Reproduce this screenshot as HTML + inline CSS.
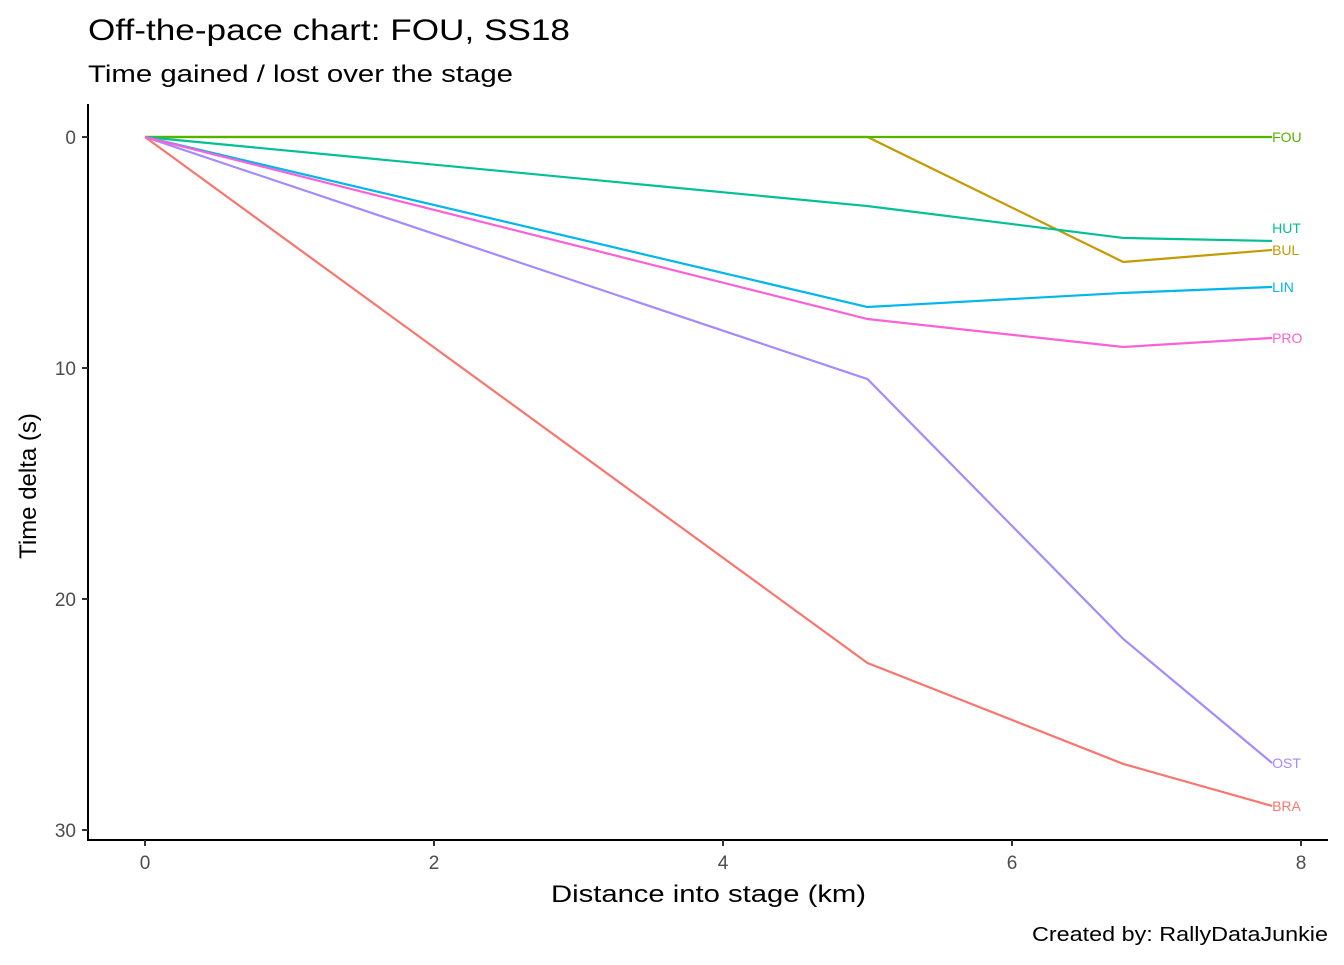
<!DOCTYPE html>
<html><head><meta charset="utf-8"><style>
body{margin:0;background:#fff;font-family:"Liberation Sans",Arial,sans-serif}
</style></head><body>
<svg id="chart" width="1344" height="960" xmlns="http://www.w3.org/2000/svg">
<text x="88" y="40" font-size="30" textLength="482" lengthAdjust="spacingAndGlyphs" fill="#000">Off-the-pace chart: FOU, SS18</text>
<text x="88" y="82" font-size="24" textLength="425" lengthAdjust="spacingAndGlyphs" fill="#000">Time gained / lost over the stage</text>
<text x="1032" y="941" font-size="20" textLength="296" lengthAdjust="spacingAndGlyphs" fill="#000">Created by: RallyDataJunkie</text>
<text x="551" y="902" font-size="24" textLength="315" lengthAdjust="spacingAndGlyphs" fill="#000">Distance into stage (km)</text>
<text transform="translate(36,486) rotate(-90)" font-size="24" text-anchor="middle" fill="#000">Time delta (s)</text>
<line x1="88" y1="104" x2="88" y2="841" stroke="#000" stroke-width="2"/>
<line x1="87" y1="840" x2="1328" y2="840" stroke="#000" stroke-width="2"/>
<g id="ticks"></g><g id="lines"></g>
</svg>
<script>
const distances=[0,5,6.77,7.8];
const series=["BRA","BUL","FOU","HUT","LIN","OST","PRO"];
const colors=["#F8766D","#C49A00","#53B400","#00C094","#00B6EB","#A58AFF","#FB61D7"];
const BRA=[0,22.77,27.14,28.96];
const BUL=[0,0,5.41,4.89];
const FOU=[0,0,0,0];
const HUT=[0,2.99,4.37,4.5];
const LIN=[0,7.36,6.75,6.49];
const OST=[0,10.48,21.73,27.1];
const PRO=[0,7.88,9.09,8.7];
const values=[BRA,BUL,FOU,HUT,LIN,OST,PRO];
const xTicks=[0,2,4,6,8];
const yTicks=[0,10,20,30];
const ns="http://www.w3.org/2000/svg";
const X=v=>145+v*144.5, Y=v=>137+v*23.1;
const tg=document.getElementById('ticks'), lg=document.getElementById('lines');
function mk(t,a,p){const e=document.createElementNS(ns,t);for(const k in a)e.setAttribute(k,a[k]);p.appendChild(e);return e;}
xTicks.forEach(v=>{
 const l=mk('line',{x1:X(v),x2:X(v),y1:840,y2:846,stroke:'#333','stroke-width':2},tg);
 
 
 const t=mk('text',{x:X(v),y:869,'font-size':19,'text-anchor':'middle',fill:'#4d4d4d'},tg);t.textContent=v;
 
 
});
yTicks.forEach(v=>{
 const l=mk('line',{x1:82,x2:88,y1:Y(v),y2:Y(v),stroke:'#333','stroke-width':2},tg);
 
 
 const t=mk('text',{x:76,y:Y(v)+7,'font-size':19,'text-anchor':'end',fill:'#4d4d4d'},tg);t.textContent=v;
 
 
});
series.forEach((s,i)=>{
 const pts=values[i].map((v,j)=>X(distances[j])+','+Y(v)).join(' ');
 const p=mk('polyline',{points:pts,fill:'none',stroke:colors[i],'stroke-width':2.2},lg);
 
 
 const last=values[i][values[i].length-1];
 const nudge=(s==="HUT")?-13:0;
 const t=mk('text',{x:X(distances[distances.length-1]),y:Y(last)+5+nudge,'font-size':14,fill:colors[i]},lg);t.textContent=s;
 
 
});
</script>
</body></html>
